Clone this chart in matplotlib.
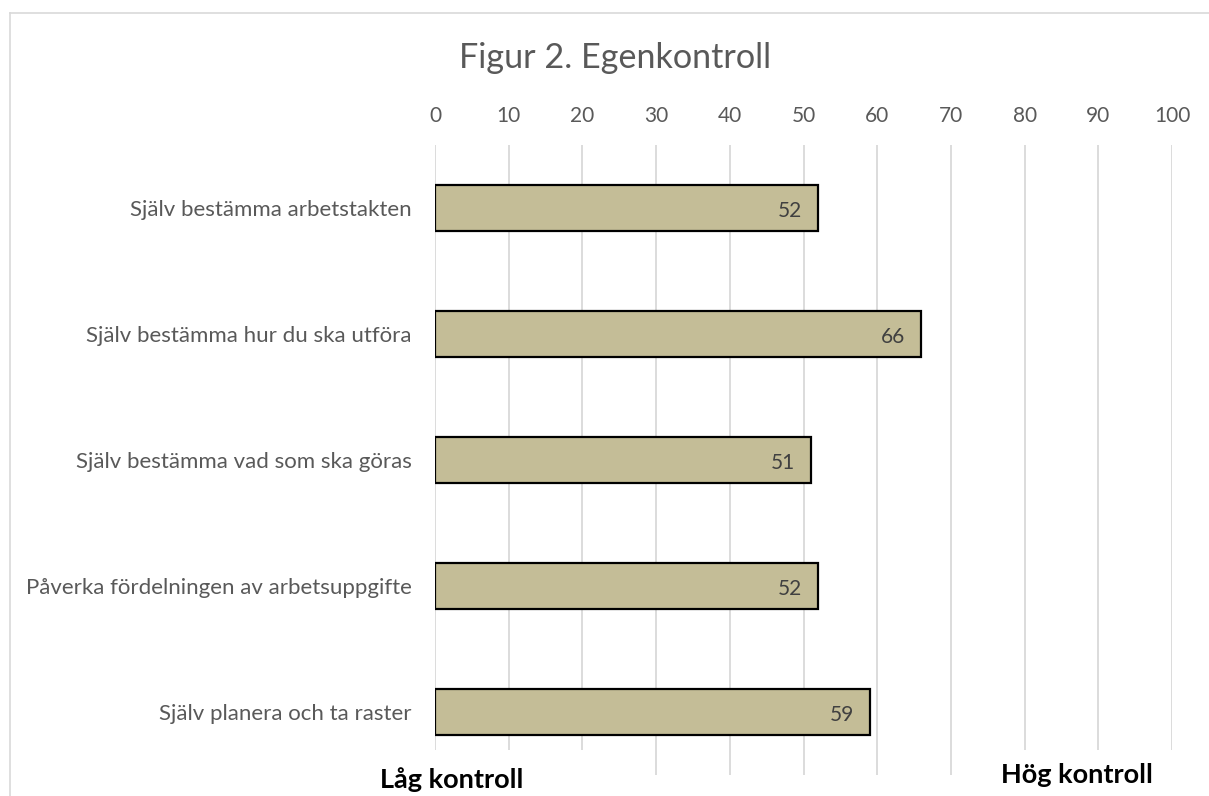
import numpy as np
import matplotlib.pyplot as plt
from matplotlib.lines import Line2D
from matplotlib.patches import Rectangle

# 数据
categories = ['Själv bestämma arbetstakten',
              'Själv bestämma hur du ska utföra',
              'Själv bestämma vad som ska göras',
              'Påverka fördelningen av arbetsuppgifte',
              'Själv planera och ta raster']
values = [52, 66, 51, 52, 59]
xticks = list(range(0, 101, 10))

plt.rcParams['font.family'] = ['Lato', 'DejaVu Sans']

W, H = 1209, 796
fig = plt.figure(figsize=(W / 100, H / 100), dpi=100)
ax = fig.add_axes([435 / W, 1 - 775 / H, 737 / W, 630 / H])

y = np.arange(len(categories))
ax.barh(y, values, height=0.36, color='#C4BD97', edgecolor='black', linewidth=1.6, zorder=3)

# 数值标签
for yi, v in zip(y, values):
    ax.text(v - 2.2, yi + 0.02, str(v), ha='right', va='center', fontsize=15, color='#404040', zorder=4)

ax.set_xlim(0, 100)
ax.set_ylim(len(categories) - 0.5, -0.5)
ax.set_xticks(xticks)
ax.set_yticks(y)
ax.set_yticklabels(categories)
ax.xaxis.tick_top()
ax.tick_params(axis='x', length=0, pad=14, labelsize=15, labelcolor='#595959')
ax.tick_params(axis='y', length=0, pad=17, labelsize=16, labelcolor='#595959')
ax.grid(axis='x', color='#D9D9D9', linewidth=1.3, zorder=0)
for s in ax.spines.values():
    s.set_visible(False)

fig.text(615 / W, 1 - 58 / H, 'Figur 2. Egenkontroll', ha='center', va='center', fontsize=24.6, color='#595959')

# 两端说明（白底盖住网格线）
fig.add_artist(Rectangle((418 / W, 0), 182 / W, 46 / H, facecolor='white', edgecolor='none', zorder=5))
fig.add_artist(Rectangle((990 / W, 0), 200 / W, 46 / H, facecolor='white', edgecolor='none', zorder=5))
fig.text(452 / W, 1 - 780 / H, 'Låg kontroll', ha='center', va='center', fontsize=19.5, fontweight='bold', color='black', zorder=6)
fig.text(1077 / W, 1 - 775 / H, 'Hög kontroll', ha='center', va='center', fontsize=19.5, fontweight='bold', color='black', zorder=6)

# 外框
fig.add_artist(Line2D([10 / W, 1], [1 - 13 / H, 1 - 13 / H], color='#D9D9D9', linewidth=1.2))
fig.add_artist(Line2D([10 / W, 10 / W], [0, 1 - 13 / H], color='#D9D9D9', linewidth=1.2))

fig.savefig('out.png', dpi=100)
